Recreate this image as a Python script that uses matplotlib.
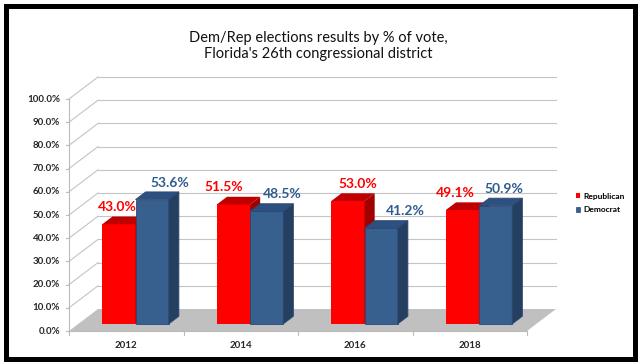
import numpy as np
import matplotlib.pyplot as plt
from matplotlib.patches import Polygon, Rectangle, Patch
from matplotlib.lines import Line2D
from matplotlib.transforms import IdentityTransform

years = ['2012', '2014', '2016', '2018']
republican = [43.0, 51.5, 53.0, 49.1]
democrat = [53.6, 48.5, 41.2, 50.9]
yticks = np.arange(0, 101, 10)

# label nudges in pixels (the original labels were dragged by hand)
rep_dx = [-2, -10, 10, -7]
dem_dx = [18, 16, 24, 8]

plt.rcParams['font.family'] = ['Lato', 'DejaVu Sans']

W, H = 640, 364
fig = plt.figure(figsize=(W / 100, H / 100), dpi=100)
fig.patch.set_facecolor('white')
ax = fig.add_axes([69 / W, 33 / H, (527 - 69) / W, 232 / H])
ax.set_xlim(0, 4)
ax.set_ylim(0, 100)
ax.axis('off')

DEPTH = np.array([29.0, 22.0])  # oblique projection of the full depth, px
PIX = IdentityTransform()
grid_c = '#C4C4C4'


def P(x, y, z=0.0):
    return ax.transData.transform((x, y)) + z * DEPTH


def quad(pts, color, z, ec='none', lw=0):
    ax.add_patch(Polygon(pts, closed=True, transform=PIX, facecolor=color,
                         edgecolor=ec, linewidth=lw, zorder=z, clip_on=False))


def seg(p, q, color=grid_c, lw=0.8, z=1):
    ax.add_line(Line2D([p[0], q[0]], [p[1], q[1]], transform=PIX, color=color,
                       linewidth=lw, zorder=z, clip_on=False))


# floor
quad([P(0, 0, 0), P(4, 0, 0), P(4, 0, 1), P(0, 0, 1)], '#C0C0C0', 1)

# side wall and back wall gridlines
for v in yticks[1:]:
    seg(P(0, v, 0), P(0, v, 1))
    seg(P(0, v, 1), P(4, v, 1))

# axes lines and ticks
seg(P(0, 0), P(0, 100), color='#BBBBBB')
seg(P(0, 0), P(4, 0), color='#BBBBBB', z=2)
for i in range(5):
    p = P(i, 0)
    seg(p, p - [0, 4], color='#BBBBBB')
for v in yticks:
    p = P(0, v)
    seg(p, p - [3, 0], color='#BBBBBB')
    ax.text(p[0] - 9, p[1], f'{v:.1f}%', transform=PIX, ha='right', va='center',
            fontsize=7, fontweight='bold', color='#262626')

for i, yr in enumerate(years):
    p = P(i + 0.5, 0)
    ax.text(p[0], p[1] - 14, yr, transform=PIX, ha='center', va='center',
            fontsize=7, fontweight='bold', color='#262626')

# 3D bars
bw = 0.29
z0, z1 = 0.32, 0.67
off = (z1 - z0) * DEPTH


def box(x0, x1, h, front, top, side, ec='none', lw=0, z=5):
    a, b = P(x0, 0, z0), P(x1, 0, z0)
    c, d = P(x1, h, z0), P(x0, h, z0)
    quad([a, b, c, d], front, z, ec, lw)
    quad([d, c, c + off, d + off], top, z, ec, lw)
    quad([b, b + off, c + off, c], side, z, ec, lw)
    return (a + b) / 2 + [0, (c - b)[1]]


for i in range(len(years)):
    xr = i + 0.5 - bw
    top_r = box(xr, xr + bw, republican[i], '#FF0000', '#C00000', '#A00000')
    top_d = box(i + 0.5, i + 0.5 + bw, democrat[i], '#38608F', '#2E5080', '#243F60',
                ec='#2A4A75', lw=0.6)
    ax.text(top_r[0] + rep_dx[i], top_r[1] + 17, f'{republican[i]:.1f}%', transform=PIX,
            ha='center', va='center', fontsize=10, fontweight='bold', color='#FF0000', zorder=10)
    ax.text(top_d[0] + dem_dx[i], top_d[1] + 17, f'{democrat[i]:.1f}%', transform=PIX,
            ha='center', va='center', fontsize=10, fontweight='bold', color='#2F5C8F', zorder=10)

# title
fig.text(318 / W, 1 - 38 / H, 'Dem/Rep elections results by % of vote,', ha='center',
         va='center', fontsize=10.5, color='#111111')
fig.text(318 / W, 1 - 54 / H, "Florida's 26th congressional district", ha='center',
         va='center', fontsize=10.5, color='#111111')

# legend
handles = [Patch(facecolor='#FF0000', label='Republican'),
           Patch(facecolor='#38608F', edgecolor='#2A4A75', linewidth=0.5, label='Democrat')]
fig.legend(handles=handles, loc='center left', bbox_to_anchor=(568 / W, 1 - 203 / H),
           frameon=False, handlelength=0.55, handleheight=0.55,
           handletextpad=0.35, labelspacing=0.8, prop={'weight': 'bold', 'size': 6})

# chart frame
fig.add_artist(Rectangle((5.5, H - 358.5), 629.5, 352.5, transform=PIX, fill=False,
                         edgecolor='black', linewidth=3.6))

fig.savefig('out.png', dpi=100)
